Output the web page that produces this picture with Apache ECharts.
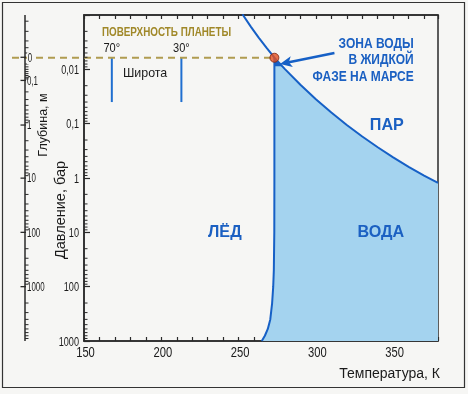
<!DOCTYPE html>
<html><head><meta charset="utf-8">
<script src="https://cdn.jsdelivr.net/npm/echarts@6/dist/echarts.min.js"></script>
<style>html,body{margin:0;padding:0;background:#f6f6f4;}#c{width:468px;height:394px;}</style>
</head><body><div id="c"></div>
<script>
// ---- data ----
const tempMin = 150, tempMax = 379;
const xTickLabels = [150, 200, 250, 300, 350];
const pressureTicks = [0.01, 0.1, 1, 10, 100, 1000];
const pressureTickLabels = ['0,01', '0,1', '1', '10', '100', '1000'];
const logDecades = [0.001, 0.01, 0.1, 1, 10, 100];
const logMinorSteps = [2, 3, 4, 5, 6, 7, 8, 9];

// sublimation + boiling curve (T in K, P in bar)
const vaporT = [252.5, 253, 258, 263, 268, 273.16, 280, 290, 300, 310, 320, 330, 340, 350, 360, 370, 379];
const vaporP = [0.00097, 0.00103, 0.00165, 0.0026, 0.0040, 0.00612, 0.0099, 0.0192, 0.0354, 0.0623, 0.1055, 0.172, 0.272, 0.417, 0.622, 0.901, 1.23];
// melting curve
const meltT = [273.16, 273.16, 273.1, 272.8, 272.4, 271.7, 270.5, 268.9, 267.0, 265.0];
const meltP = [0.00612, 1, 10, 50, 100, 200, 400, 600, 800, 1000];
const triplePoint = [273.16, 0.00612];
const liquidTip = [[273.16, 0.00612], [273.16, 0.0088], [278.3, 0.0088]];

// surface temperatures at latitudes
const latitudeNames = ['70°', '30°'];
const latitudeT = [168, 213];
const latitudeP = [0.00612, 0.04];
const latitudeLabelP = 0.0042;

// depth axis (m) and where each depth sits on the pressure scale
const depthLabels = ['0', '0,1', '1', '10', '100', '1000'];
const depthValues = [0, 0.1, 1, 10, 100, 1000];
const depthMinorDecades = [0.01, 0.1, 1, 10, 100, 1000];
const depthTopTicksP = [0.0013, 0.002, 0.003, 0.004, 0.005];
const surfaceP = 0.006;      // bar at depth 0
const barPerMetre = 0.1;     // pressure gain per metre of depth

const arrowFrom = [312, 0.0050];
const arrowTo = [276.8, 0.0080];

const annotations = [
  {t: 161.6, p: 0.00206, text: 'ПОВЕРХНОСТЬ ПЛАНЕТЫ', kind: 'surface'},
  {t: 175.2, p: 0.0117, text: 'Широта', kind: 'plain'},
  {t: 363.3, p: 0.0068, text: 'ЗОНА ВОДЫ\nВ ЖИДКОЙ\nФАЗЕ НА МАРСЕ', kind: 'zone'},
  {t: 345.9, p: 0.106, text: 'ПАР', kind: 'big'},
  {t: 342.0, p: 9.9, text: 'ВОДА', kind: 'big'},
  {t: 241.1, p: 9.9, text: 'ЛЁД', kind: 'big'}
];

// ---- styles ----
const REG = "'Liberation Sans',Arial,sans-serif";
const BLUE = '#1660c6';
const TBLUE = '#1b60c2';
const FILL = '#a4d3ef';
const OLIVE = '#a08828';
const AX = '#2a2a2a';
const INK = '#1a1a1a';

const chart = echarts.init(document.getElementById('c'), null, {renderer: 'canvas'});

const minorP = [];
logDecades.forEach(d => logMinorSteps.forEach(s => minorP.push(d * s)));

const depthMinorP = [];
depthMinorDecades.forEach(d => logMinorSteps.forEach(s => depthMinorP.push(surfaceP + barPerMetre * d * s)));
depthTopTicksP.forEach(p => depthMinorP.push(p));

function txt(x, y, text, size, opts) {
  const o = opts || {};
  return {type: 'text', x: x, y: y, scaleX: o.sx || 1,
    style: {text: text, fontSize: size, fontFamily: REG, fontWeight: o.bold ? 'bold' : 'normal', fill: o.fill || INK,
      align: o.align || 'center', verticalAlign: 'middle', lineHeight: o.lh, backgroundColor: o.bg, padding: o.bg ? [0, 1, 0, 1] : 0}};
}

const option = {
  backgroundColor: '#f6f6f4',
  animation: false,
  grid: {left: 84, top: 15, width: 354, height: 326, show: true, borderColor: AX, borderWidth: 1.5, backgroundColor: 'transparent'},
  xAxis: [{
    type: 'value', min: tempMin, max: tempMax, interval: 10, position: 'bottom',
    axisLine: {lineStyle: {color: AX, width: 1.5}},
    axisTick: {inside: true, length: 4, lineStyle: {color: AX, width: 1.2}},
    axisLabel: {show: false},
    splitLine: {show: false},
    name: 'Температура, К', nameLocation: 'end', nameGap: 2,
    nameTextStyle: {align: 'right', verticalAlign: 'top', padding: [26, 0, 0, 0], fontSize: 14, fontFamily: REG, color: INK}
  }, {
    type: 'value', min: tempMin, max: tempMax, interval: 10, position: 'top',
    axisLine: {lineStyle: {color: AX, width: 1.5}},
    axisTick: {inside: true, length: 4, lineStyle: {color: AX, width: 1.2}},
    axisLabel: {show: false}, splitLine: {show: false}
  }],
  yAxis: [{
    type: 'log', logBase: 10, min: 0.001, max: 1000, inverse: true, splitNumber: 6, position: 'left',
    axisLine: {show: true, lineStyle: {color: AX, width: 1.5}},
    axisTick: {show: true, inside: true, length: 6, lineStyle: {color: AX, width: 1.2}},
    axisLabel: {show: false},
    splitLine: {show: false}
  }],
  graphic: [
    {type: 'rect', shape: {x: 2.5, y: 2.5, width: 462, height: 385}, style: {fill: 'none', stroke: '#333', lineWidth: 1.2}, silent: true},
    {type: 'text', x: 44, y: 125, rotation: Math.PI / 2, style: {text: 'Глубина, м', fontSize: 12.5, fontFamily: REG, fill: INK, align: 'center', verticalAlign: 'middle'}},
    {type: 'text', x: 61, y: 210, rotation: Math.PI / 2, style: {text: 'Давление, бар', fontSize: 14.5, fontFamily: REG, fill: INK, align: 'center', verticalAlign: 'middle'}}
  ],
  series: [
    { // liquid zone fill
      type: 'custom', name: 'fill', z: 1, clip: true, silent: true, data: [[200, 1]],
      renderItem: (params, api) => {
        const pts = [];
        for (let i = 0; i < meltT.length; i++) pts.push(api.coord([meltT[i], meltP[i]]));
        pts.push(api.coord([tempMax, meltP[meltP.length - 1]]));
        for (let i = vaporT.length - 1; i >= 0; i--) if (vaporT[i] >= triplePoint[0]) pts.push(api.coord([vaporT[i], vaporP[i]]));
        return {type: 'polygon', shape: {points: pts}, style: {fill: FILL}};
      }
    },
    { // dark tip of liquid zone
      type: 'custom', name: 'tip', z: 2, clip: true, silent: true, data: [[200, 1]],
      renderItem: (params, api) => ({type: 'polygon', shape: {points: liquidTip.map(p => api.coord(p))}, style: {fill: BLUE}})
    },
    {type: 'line', name: 'vapor', z: 3, data: vaporT.map((t, i) => [t, vaporP[i]]), showSymbol: false, silent: true,
     lineStyle: {color: BLUE, width: 2}},
    {type: 'line', name: 'melt', z: 3, data: meltT.map((t, i) => [t, meltP[i]]), showSymbol: false, silent: true,
     lineStyle: {color: BLUE, width: 2}},
    { // x tick labels
      type: 'custom', name: 'xlabels', z: 5, clip: false, silent: true,
      data: xTickLabels.map(v => [v, 1000]),
      renderItem: (params, api) => {
        const c = api.coord([api.value(0), api.value(1)]);
        return txt(c[0] + 1.5, c[1] + 12.5, String(api.value(0)), 14, {sx: 0.8});
      }
    },
    { // pressure tick labels
      type: 'custom', name: 'plabels', z: 5, clip: false, silent: true,
      data: pressureTicks.map((p, i) => [tempMin, p, i]),
      renderItem: (params, api) => {
        const c = api.coord([api.value(0), api.value(1)]);
        return txt(c[0] - 5, c[1] + 1.5, pressureTickLabels[api.value(2)], 12, {sx: 0.76, align: 'right'});
      }
    },
    { // latitude lines
      type: 'custom', name: 'lat', z: 4, clip: false, silent: true,
      data: latitudeT.map((t, i) => [t, latitudeP[0], i]),
      renderItem: (params, api) => {
        const t = api.value(0), i = api.value(2);
        const a = api.coord([t, latitudeP[0]]), b = api.coord([t, latitudeP[1]]), l = api.coord([t, latitudeLabelP]);
        return {type: 'group', children: [
          {type: 'line', shape: {x1: a[0], y1: a[1], x2: b[0], y2: b[1]}, style: {stroke: '#1f6fd0', lineWidth: 2}},
          txt(l[0], l[1], latitudeNames[i], 13, {sx: 0.85})
        ]};
      }
    },
    { // surface dashed line
      type: 'custom', name: 'surface', z: 4, clip: false, silent: true, data: [[200, 1]],
      renderItem: (params, api) => {
        const b = api.coord(triplePoint);
        const x0 = params.coordSys.x - 72;
        return {type: 'line', shape: {x1: x0, y1: b[1], x2: b[0], y2: b[1]}, style: {stroke: '#b09c50', lineWidth: 2, lineDash: [7, 5]}};
      }
    },
    { // pressure minor ticks
      type: 'custom', name: 'pminor', z: 5, clip: false, silent: true,
      data: minorP.map(p => [tempMin, p]),
      renderItem: (params, api) => {
        const c = api.coord([api.value(0), api.value(1)]);
        return {type: 'line', shape: {x1: c[0], y1: c[1], x2: c[0] + 3.5, y2: c[1]}, style: {stroke: AX, lineWidth: 1}};
      }
    },
    { // depth axis
      type: 'custom', name: 'depth', z: 5, clip: false, silent: true, data: [[200, 1]],
      renderItem: (params, api) => {
        const cs = params.coordSys;
        const ax = cs.x - 59;
        const ch = [{type: 'line', shape: {x1: ax, y1: cs.y, x2: ax, y2: cs.y + cs.height}, style: {stroke: AX, lineWidth: 1.5}}];
        depthMinorP.forEach(p => {
          const y = api.coord([tempMin, p])[1];
          if (y < cs.y || y > cs.y + cs.height) return;
          ch.push({type: 'line', shape: {x1: ax, y1: y, x2: ax + 3.5, y2: y}, style: {stroke: AX, lineWidth: 1}});
        });
        depthValues.forEach((d, i) => {
          const y = api.coord([tempMin, surfaceP + barPerMetre * d])[1];
          ch.push({type: 'line', shape: {x1: ax - 4.5, y1: y, x2: ax + 1, y2: y}, style: {stroke: AX, lineWidth: 1.3}});
          ch.push(txt(ax + 2, y + 1, depthLabels[i], 12, {sx: 0.66, align: 'left', bg: i === 0 ? '#f6f6f4' : undefined}));
        });
        return {type: 'group', children: ch};
      }
    },
    { // arrow
      type: 'custom', name: 'arrow', z: 6, clip: false, silent: true, data: [[200, 1]],
      renderItem: (params, api) => {
        const a = api.coord(arrowFrom), b = api.coord(arrowTo);
        const dx = b[0] - a[0], dy = b[1] - a[1], L = Math.hypot(dx, dy), ux = dx / L, uy = dy / L;
        const hl = 12, hw = 5.5;
        const base = [b[0] - ux * hl, b[1] - uy * hl];
        return {type: 'group', children: [
          {type: 'line', shape: {x1: a[0], y1: a[1], x2: base[0] + ux * 3, y2: base[1] + uy * 3}, style: {stroke: BLUE, lineWidth: 2.5}},
          {type: 'polygon', shape: {points: [b, [base[0] - uy * hw, base[1] + ux * hw], [base[0] + ux * 3, base[1] + uy * 3], [base[0] + uy * hw, base[1] - ux * hw]]}, style: {fill: BLUE}}
        ]};
      }
    },
    {type: 'scatter', name: 'triple', z: 7, data: [triplePoint], symbol: 'circle', symbolSize: 9, silent: true,
     itemStyle: {color: '#e5501f', borderColor: '#7d2410', borderWidth: 1}},
    { // text annotations
      type: 'custom', name: 'notes', z: 8, clip: false, silent: true,
      data: annotations.map((a, i) => [a.t, a.p, i]),
      renderItem: (params, api) => {
        const a = annotations[api.value(2)];
        const c = api.coord([a.t, a.p]);
        if (a.kind === 'surface') return txt(c[0], c[1], a.text, 13.5, {bold: true, fill: OLIVE, align: 'left', sx: 0.73});
        if (a.kind === 'plain') return txt(c[0], c[1], a.text, 13.5, {align: 'left', sx: 0.92});
        if (a.kind === 'zone') return txt(c[0], c[1], a.text, 15, {bold: true, fill: TBLUE, align: 'right', sx: 0.8, lh: 16.5});
        return txt(c[0], c[1], a.text, 17, {bold: true, fill: TBLUE, align: 'center', sx: 0.95});
      }
    }
  ]
};
chart.setOption(option);
</script>
</body></html>
